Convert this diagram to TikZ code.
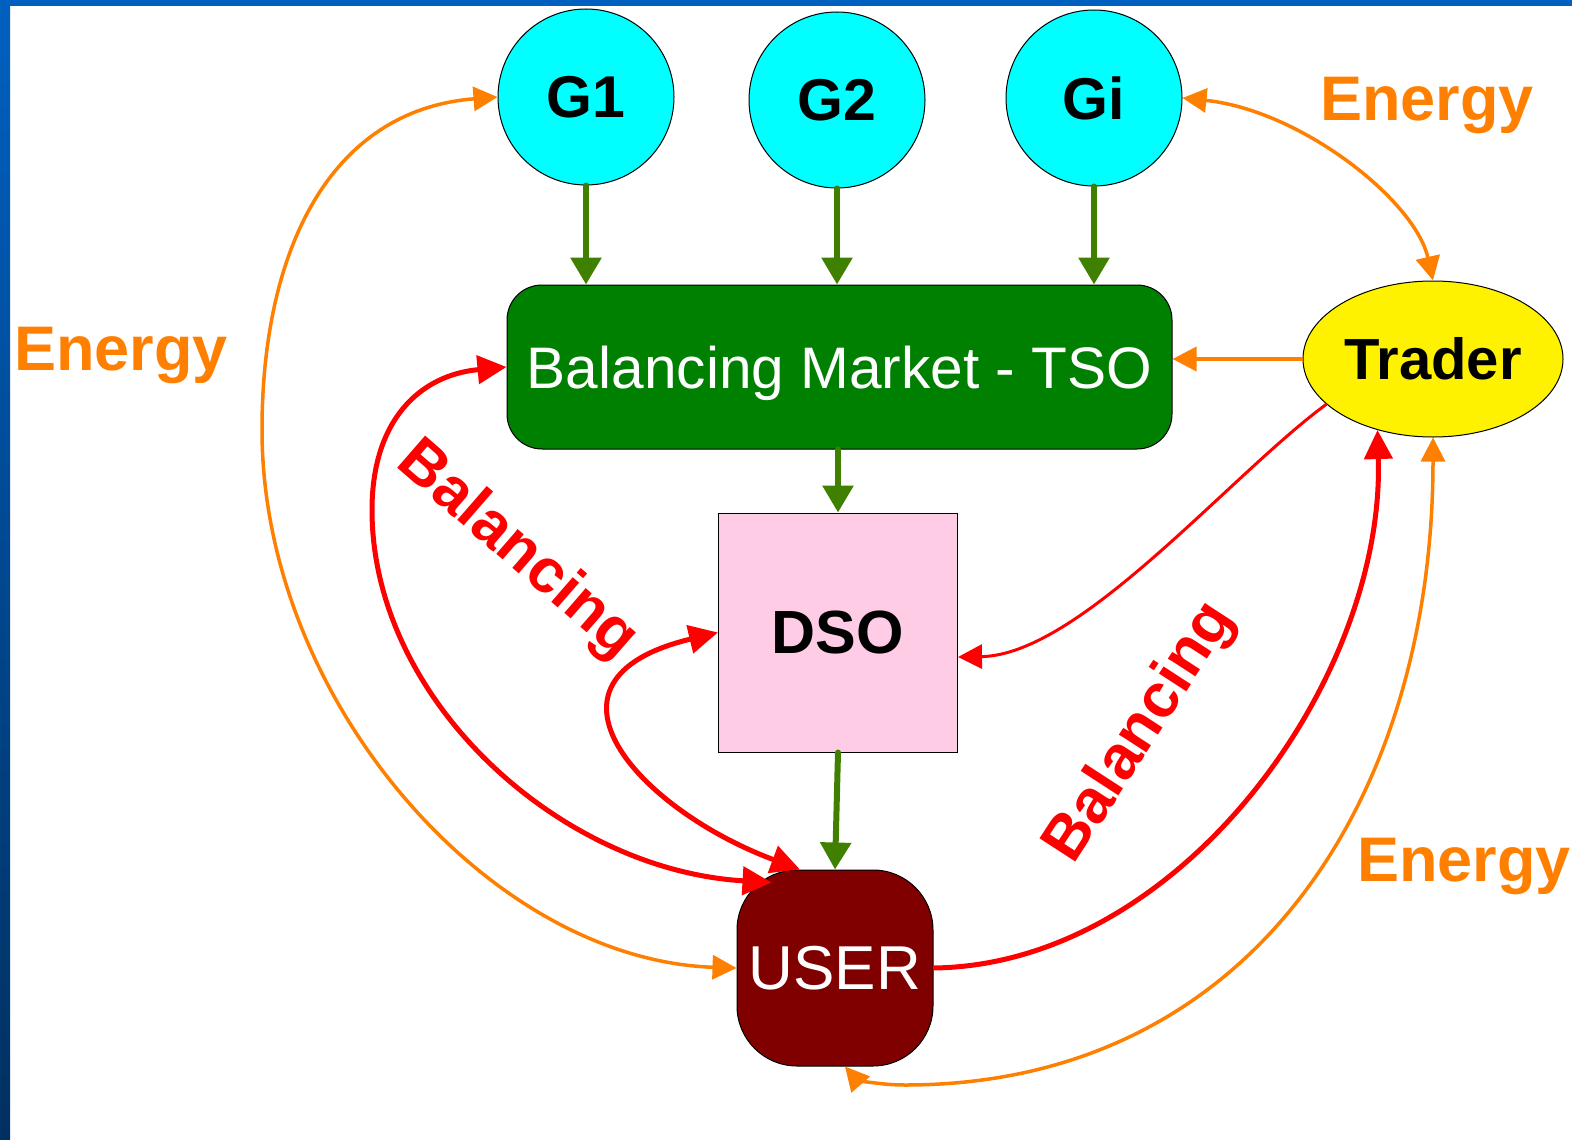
\documentclass[tikz,border=0pt]{standalone}
\usepackage{fontspec}
\setmainfont{Liberation Sans}
\usetikzlibrary{arrows.meta,shapes.geometric}

\definecolor{gencyan}{RGB}{0,255,255}
\definecolor{tsogreen}{RGB}{0,128,0}
\definecolor{flowgreen}{RGB}{64,128,0}
\definecolor{energyorange}{RGB}{255,128,0}
\definecolor{dsopink}{RGB}{255,204,230}
\definecolor{usermaroon}{RGB}{128,0,0}
\definecolor{frametop}{RGB}{0,96,192}
\definecolor{framebot}{RGB}{0,48,96}

\newcommand{\fsz}[1]{\fontsize{#1}{#1}\selectfont}

\tikzset{
  gtip/.tip={Triangle[length=27pt,width=30pt]},
  otip/.tip={Triangle[length=24pt,width=24pt]},
  rtip/.tip={Triangle[length=29pt,width=28pt]},
}

\begin{document}
\begin{tikzpicture}[x=1pt,y=-1pt,
  gen/.style={circle,draw,line width=1pt,fill=gencyan,minimum size=176pt,inner sep=0pt,font={\fsz{59}\bfseries}},
  tso/.style={rectangle,draw,line width=1pt,fill=tsogreen,rounded corners=35pt,minimum width=665pt,minimum height=164pt,inner sep=0pt,text=white,text depth=0pt,font={\fsz{58.6}}},
  trader/.style={ellipse,draw,line width=1pt,fill=yellow,minimum width=260pt,minimum height=156pt,inner sep=0pt,font={\fsz{58}\bfseries}},
  dso/.style={rectangle,draw,line width=1pt,fill=dsopink,minimum size=239pt,inner sep=0pt,font={\fsz{61}\bfseries}},
  user/.style={rectangle,draw,line width=1pt,fill=usermaroon,rounded corners=60pt,minimum size=196pt,inner sep=0pt,text=white,font={\fsz{62}}},
  energy/.style={text=energyorange,font={\fsz{63}\bfseries},inner sep=0pt,anchor=base},
  balance/.style={text=red,font={\fsz{62}\bfseries},inner sep=0pt},
  supply/.style={draw=flowgreen,line width=6pt,line cap=round,-gtip},
  energyflow/.style={draw=energyorange,line width=3.5pt,otip-otip},
  energyone/.style={draw=energyorange,line width=3.5pt,-otip},
  balflow/.style={draw=red,line width=5pt,rtip-rtip},
  balone/.style={draw=red,line width=5pt,-rtip},
  balthin/.style={draw=red,line width=3pt,-otip},
]
\useasboundingbox (0,0) rectangle (1572,1140);
\shade[top color=frametop,bottom color=framebot] (0,0) rectangle (10,1140);
\fill[frametop] (0,0) rectangle (1572,6);

% generators
\node[gen] (G1) at (586,97) {G1};
\node[gen] (G2) at (837,100) {G2};
\node[gen] (Gi) at (1094,98) {Gi};

% market and actors
\node[tso] (tso) at (839.5,367) {Balancing Market - TSO};
\node[trader] (trader) at (1433,359) {Trader};
\node[dso] (dso) at (838,632.5) {DSO};
\node[user] (user) at (835,968) {USER};

% labels
\node[energy] (energyL) at (121,370) {Energy};
\node[energy] (energyT) at (1427,120) {Energy};
\node[energy] (energyB) at (1464,881) {Energy};
\node[balance,rotate=-41] (balL) at (517,551) {Balancing};
\node[balance,rotate=57] (balR) at (1141,733) {Balancing};

% power flow
\draw[supply] (G1.south) -- (G1.south |- tso.north);
\draw[supply] (G2.south) -- (G2.south |- tso.north);
\draw[supply] (Gi.south) -- (Gi.south |- tso.north);
\draw[supply] (dso.north |- tso.south) -- (dso.north);
\draw[supply] (dso.south) -- (user.north);

% energy
\draw[energyflow] (G1.west) .. controls (330,110) and (262,250) .. (262,430)
  .. controls (262,700) and (490,960) .. (user.west);
\draw[energyflow] (Gi.east) .. controls (1300,110) and (1415,200) .. (trader.north);
\draw[energyone] (trader.west) -- (tso.east |- trader.west);
\draw[energyflow] (trader.south) .. controls (1433,800) and (1250,1085) .. (905,1085)
  .. controls (875,1085) and (855,1078) .. ([xshift=10pt]user.south);

% balancing
\draw[balthin] (trader.203) .. controls (1230,475) and (1080,655) .. ([yshift=-24.5pt]dso.east);
\draw[balflow] (tso.west) .. controls (420,375) and (372,420) .. (372,510)
  .. controls (372,700) and (560,870) .. ([shift={(35,13)}]user.north west);
\draw[balflow] (dso.west) .. controls (520,680) and (640,810) .. ([xshift=-35pt]user.north);
\draw[balone] (user.east) .. controls (1180,965) and (1385,680) .. (trader.232);
\end{tikzpicture}
\end{document}
